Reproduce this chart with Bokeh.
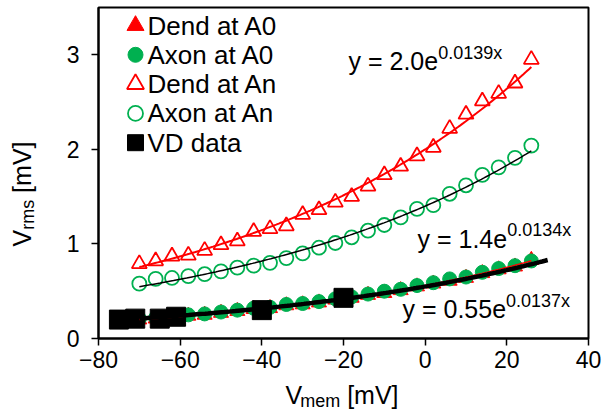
import numpy as np
from bokeh.plotting import figure
from bokeh.models import Label, FixedTicker, Range1d
from bokeh.layouts import row, column
from bokeh.embed import file_html
from bokeh.resources import INLINE

# ---------------- data ----------------
x_mv = [-70, -66, -62, -58, -54, -50, -46, -42, -38, -34, -30, -26, -22,
        -18, -14, -10, -6, -2, 2, 6, 10, 14, 18, 22, 26]
dend_a0 = [0.20, 0.21, 0.22, 0.24, 0.25, 0.27, 0.29, 0.31, 0.32, 0.35, 0.36, 0.38, 0.41,
           0.43, 0.46, 0.48, 0.51, 0.55, 0.58, 0.61, 0.64, 0.69, 0.73, 0.76, 0.83]
axon_a0 = [0.21, 0.22, 0.23, 0.25, 0.26, 0.28, 0.30, 0.32, 0.33, 0.36, 0.37, 0.39, 0.42,
           0.44, 0.47, 0.50, 0.52, 0.56, 0.59, 0.63, 0.65, 0.70, 0.74, 0.77, 0.82]
dend_an = [0.79, 0.82, 0.87, 0.88, 0.93, 0.99, 1.03, 1.13, 1.16, 1.19, 1.31, 1.36, 1.44,
           1.50, 1.61, 1.73, 1.82, 1.93, 2.02, 2.22, 2.37, 2.51, 2.59, 2.70, 2.95]
axon_an = [0.58, 0.63, 0.64, 0.66, 0.68, 0.71, 0.75, 0.77, 0.80, 0.85, 0.90, 0.96, 1.01,
           1.07, 1.14, 1.20, 1.28, 1.37, 1.41, 1.53, 1.62, 1.73, 1.81, 1.91, 2.04]
vd_x = [-75, -71, -65, -61, -40, -20]
vd_y = [0.20, 0.21, 0.21, 0.23, 0.30, 0.43]

series_names = ["Dend at A0", "Axon at A0", "Dend at An", "Axon at An", "VD data"]

# exponential trendlines shown on the chart: y = a * exp(b x)
fit_a = [2.0, 1.4, 0.55]
fit_b = [0.0139, 0.0134, 0.0137]
fit_x0 = [-70, -70, -70]
fit_x1 = [26, 26, 30]
eq_main = ["y = 2.0e", "y = 1.4e", "y = 0.55e"]
eq_sup = ["0.0139x", "0.0134x", "0.0137x"]

x_ticks = [-80, -60, -40, -20, 0, 20, 40]
y_ticks = [0, 1, 2, 3]

RED = "#FF0000"
GREEN = "#00B050"
FONT = "Liberation Sans"

YL_W = 50          # width of the strip holding the y-axis title
XL_H = 34          # height of the strip holding the x-axis title

# ---------------- main figure ----------------
p = figure(width=603 - YL_W, height=412 - XL_H, output_backend="svg", toolbar_location=None,
           x_range=Range1d(-80, 40), y_range=Range1d(0, 3.5),
           min_border_left=98 - YL_W, min_border_right=15, min_border_top=7,
           min_border_bottom=412 - XL_H - 338)
p.background_fill_color = "white"
p.border_fill_color = "white"
p.grid.visible = False
p.outline_line_color = "black"
p.outline_line_width = 2

for ax in (p.xaxis[0], p.yaxis[0]):
    ax.axis_line_width = 2
    ax.axis_line_color = "black"
    ax.major_tick_line_width = 1.5
    ax.major_tick_line_color = "black"
    ax.major_tick_in = 0
    ax.major_tick_out = 7
    ax.minor_tick_in = 0
    ax.minor_tick_out = 0
    ax.major_label_text_font = FONT
    ax.major_label_text_font_size = "23px"
    ax.major_label_text_color = "black"
p.xaxis[0].ticker = FixedTicker(ticks=x_ticks)
p.yaxis[0].ticker = FixedTicker(ticks=y_ticks)
p.xaxis[0].major_label_standoff = 5
p.yaxis[0].major_label_standoff = 12

# frame geometry in window pixels (for placing texts)
FL, FR, FT, FB = 98, 588, 7, 338


def dx(px):
    return -80 + (px - FL) * 120 / (FR - FL)


def dy(py):
    return (FB - py) * 3.5 / (FB - FT)


# markers
styles = [
    dict(marker="triangle", size=15, fill_color=RED, line_color=RED, line_width=1),
    dict(marker="circle", size=14, fill_color=GREEN, line_color=GREEN, line_width=1),
    dict(marker="triangle", size=15, fill_color=None, line_color=RED, line_width=1.8),
    dict(marker="circle", size=14, fill_color=None, line_color=GREEN, line_width=1.8),
    dict(marker="square", size=19, fill_color="black", line_color="black", line_width=1),
]
xs_all = [x_mv, x_mv, x_mv, x_mv, vd_x]
ys_all = [dend_a0, axon_a0, dend_an, axon_an, vd_y]
for xs, ys, st in zip(xs_all, ys_all, styles):
    p.scatter(xs, ys, **st)

# trendlines
b0, lna0 = np.polyfit(np.array(x_mv), np.log(np.array(dend_a0)), 1)
xx = np.linspace(-70, 26, 120)
p.line(xx, np.exp(lna0) * np.exp(b0 * xx), line_color=RED, line_width=1.5)

line_styles = [(RED, 2), ("black", 1.5), ("black", 4.5)]
for a, b, x0, x1, (c, w) in zip(fit_a, fit_b, fit_x0, fit_x1, line_styles):
    xs = np.linspace(x0, x1, 150)
    p.line(xs, a * np.exp(b * xs), line_color=c, line_width=w)

# ---------------- text helpers ----------------
W = {'y': 0.5, ' ': 0.278, '=': 0.584, '.': 0.278, 'e': 0.556, 'x': 0.5, 'V': 0.667,
     'm': 0.833, 'r': 0.333, 's': 0.5, '[': 0.278, ']': 0.278}
for d in "0123456789":
    W[d] = 0.556


def tw(s, size):
    return sum(W.get(ch, 0.556) for ch in s) * size


def lab(fig, x, y, text, size, angle=0.0):
    fig.add_layout(Label(x=x, y=y, text=text, text_font=FONT,
                         text_font_size=f"{size}px", text_color="black",
                         text_align="left", text_baseline="middle", angle=angle))


MID = 0.35   # distance from baseline to text middle, in em

# ---------------- legend (swatches + labels) ----------------
leg_sizes = [17, 15, 17, 15, 16]
for i, (name, st, sz) in enumerate(zip(series_names, styles, leg_sizes)):
    ry = 25 + 29.3 * i
    s2 = dict(st)
    s2["size"] = sz
    p.scatter([dx(135)], [dy(ry)], **s2)
    lab(p, dx(147), dy(ry), name, 26)

# equations: (left x, main baseline, superscript baseline) in window pixels
MS, SS = 25, 18
eq_pos = [(348, 69, 59), (417, 247, 236), (402, 317, 307)]
for (px, pyb, pys), m, s in zip(eq_pos, eq_main, eq_sup):
    lab(p, dx(px), dy(pyb - MID * MS), m, MS)
    lab(p, dx(px + tw(m, MS)), dy(pys - MID * SS), s, SS)


def blank(w, h, xr, yr):
    f = figure(width=w, height=h, output_backend="svg", toolbar_location=None,
               x_range=Range1d(*xr), y_range=Range1d(*yr),
               x_axis_type=None, y_axis_type=None,
               min_border=0, min_border_left=0, min_border_right=0,
               min_border_top=0, min_border_bottom=0)
    f.grid.visible = False
    f.outline_line_color = None
    f.background_fill_color = "white"
    f.border_fill_color = "white"
    return f


TS, SB = 25, 18     # axis-title font size, subscript font size

# x axis title: V_mem [mV]; strip coords: x = px from strip left, y = px up from window bottom
xl = blank(603 - YL_W, XL_H, (0, 603 - YL_W), (0, XL_H))
xl0 = 261 - YL_W
mid_main = 412 - 394      # text middle at window y = 394
mid_sub = 412 - 400
lab(xl, xl0, mid_main, "V", TS)
lab(xl, xl0 + tw("V", TS), mid_sub, "mem", SB)
lab(xl, xl0 + tw("V", TS) + tw("mem", SB) + tw(" ", TS) + 6, mid_main, "[mV]", TS)

# y axis title: V_rms [mV] (rotated); strip coords: x = window px, y = px up from bottom
yl = blank(YL_W, 412, (0, YL_W), (0, 412))
ys0 = 412 - 246
ang = np.pi / 2
lab(yl, 21, ys0, "V", TS, ang)
lab(yl, 27, ys0 + tw("V", TS), "rms", SB, ang)
lab(yl, 21, ys0 + tw("V", TS) + tw("rms", SB) + tw(" ", TS), "[mV]", TS, ang)

layout = row(yl, column(p, xl))
open("out.html", "w").write(file_html(layout, INLINE))
